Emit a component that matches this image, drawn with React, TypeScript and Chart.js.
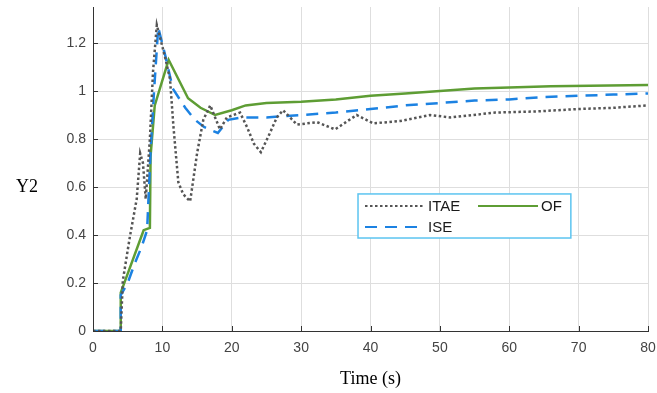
import React, { useEffect, useRef } from "react";
import { Chart, registerables } from "chart.js";

Chart.register(...registerables);

// ---- Data ----
const itaeT = [0, 4, 4.3, 5.3, 6.3, 6.8, 7.2, 7.6, 8.2, 8.65, 9.2, 10.4, 11.1, 11.6, 12.3, 13.0, 14.0, 15.0, 15.9, 16.9, 18.3, 19.3, 21.2, 22.2, 23.2, 24.2, 25.5, 26.5, 27.4, 29.4, 32.3, 34.9, 38.0, 40.4, 44.3, 48.6, 51.5, 58.0, 64.0, 70.0, 75.0, 80.0];
const itaeY = [0, 0, 0.21, 0.39, 0.55, 0.74, 0.7, 0.55, 0.8, 1.08, 1.275, 1.14, 1.05, 0.85, 0.62, 0.57, 0.54, 0.74, 0.88, 0.94, 0.84, 0.89, 0.91, 0.85, 0.78, 0.745, 0.825, 0.89, 0.92, 0.86, 0.87, 0.84, 0.9, 0.865, 0.875, 0.9, 0.89, 0.91, 0.915, 0.925, 0.93, 0.94];

const iseT = [0, 4, 4, 5, 6, 7, 7.8, 8.3, 8.8, 9.4, 10.4, 11.5, 13.3, 14.7, 16.0, 18.0, 19.5, 21.5, 25, 30, 35, 40, 45, 50, 55, 60, 65, 70, 75, 80];
const iseY = [0, 0, 0.15, 0.2, 0.28, 0.35, 0.42, 0.75, 1.0, 1.265, 1.15, 1.01, 0.93, 0.88, 0.85, 0.825, 0.88, 0.89, 0.89, 0.9, 0.91, 0.925, 0.94, 0.95, 0.96, 0.965, 0.975, 0.98, 0.985, 0.99];

const ofT = [0, 3.9, 4, 7.3, 8.2, 8.3, 8.9, 10.9, 13.7, 15.5, 17.6, 20, 22, 25, 30, 35, 40, 45, 50, 55, 60, 66, 80];
const ofY = [0, 0, 0.16, 0.42, 0.43, 0.73, 0.94, 1.13, 0.97, 0.93, 0.9, 0.92, 0.94, 0.95, 0.955, 0.965, 0.98, 0.99, 1.0, 1.01, 1.015, 1.02, 1.025];

const seriesLabels = ["ITAE", "ISE", "OF"];
const xTitle = "Time (s)";
const yTitle = "Y2";
const xMin = 0, xMax = 80, xStep = 10;
const yMin = 0, yMax = 1.35, yStep = 0.2;

const toPts = (t: number[], y: number[]) => t.map((v, i) => ({ x: v, y: y[i] }));

const fmt = (v: number) => String(Number(v.toFixed(2)));

// inward ticks + axis titles + custom boxed legend
const decorPlugin = {
  id: "decor",
  afterDraw(chart: any) {
    const ctx = chart.ctx;
    const { left, right, top, bottom } = chart.chartArea;
    const xs = chart.scales.x;
    const ys = chart.scales.y;
    ctx.save();
    // inward ticks
    ctx.strokeStyle = "#333";
    ctx.lineWidth = 1;
    xs.ticks.forEach((t: any) => {
      const px = Math.round(xs.getPixelForValue(t.value)) + 0.5;
      ctx.beginPath();
      ctx.moveTo(px, bottom);
      ctx.lineTo(px, bottom - 5);
      ctx.stroke();
    });
    ys.ticks.forEach((t: any) => {
      const py = Math.round(ys.getPixelForValue(t.value)) + 0.5;
      ctx.beginPath();
      ctx.moveTo(left, py);
      ctx.lineTo(left + 5, py);
      ctx.stroke();
    });
    // titles
    ctx.fillStyle = "#000";
    ctx.font = "18px 'Liberation Serif', serif";
    ctx.textAlign = "center";
    ctx.textBaseline = "middle";
    ctx.fillText(xTitle, (left + right) / 2, bottom + 48);
    ctx.font = "18px 'Liberation Serif', serif";
    ctx.fillText(yTitle, 27, top + (bottom - top) * 0.557);

    // legend box
    const w = right - left, h = bottom - top;
    const bx = left + w * 0.4775, by = top + h * 0.577;
    const bw = w * 0.3835, bh = h * 0.136;
    ctx.fillStyle = "#fff";
    ctx.fillRect(bx, by, bw, bh);
    ctx.strokeStyle = "#5cc4f0";
    ctx.lineWidth = 1.5;
    ctx.strokeRect(bx, by, bw, bh);
    const ds = chart.data.datasets;
    const items = [
      { d: ds[0], x: bx + 7, y: by + 12 },
      { d: ds[2], x: bx + 120, y: by + 12 },
      { d: ds[1], x: bx + 7, y: by + 33 },
    ];
    ctx.font = "15px 'Liberation Sans', Arial, sans-serif";
    ctx.textAlign = "left";
    items.forEach(({ d, x, y }) => {
      ctx.save();
      ctx.strokeStyle = d.borderColor;
      ctx.lineWidth = Math.min(d.borderWidth, 2);
      ctx.setLineDash(d.borderDash || []);
      ctx.beginPath();
      ctx.moveTo(x, y);
      ctx.lineTo(x + 60, y);
      ctx.stroke();
      ctx.restore();
      ctx.fillStyle = "#1a1a1a";
      ctx.fillText(d.label, x + 63, y + 1);
    });
    ctx.restore();
  },
};

export default function App() {
  const ref = useRef<HTMLCanvasElement | null>(null);
  useEffect(() => {
    if (!ref.current) return;
    const chart = new Chart(ref.current, {
      type: "line",
      data: {
        datasets: [
          {
            label: seriesLabels[0],
            data: toPts(itaeT, itaeY),
            borderColor: "#555555",
            borderWidth: 2.5,
            borderDash: [2.5, 2.5],
            pointRadius: 0,
            tension: 0,
          },
          {
            label: seriesLabels[1],
            data: toPts(iseT, iseY),
            borderColor: "#1c82e2",
            borderWidth: 2.5,
            borderDash: [12, 8],
            pointRadius: 0,
            tension: 0,
          },
          {
            label: seriesLabels[2],
            data: toPts(ofT, ofY),
            borderColor: "#5e9d34",
            borderWidth: 2.5,
            pointRadius: 0,
            tension: 0,
          },
        ],
      },
      options: {
        animation: false,
        responsive: false,
        layout: { padding: { left: 0, right: 9, top: 7, bottom: 0 } },
        plugins: { legend: { display: false }, tooltip: { enabled: false } },
        scales: {
          x: {
            type: "linear",
            min: xMin,
            max: xMax,
            afterFit: (s: any) => { s.height = 62; s.paddingLeft = 0; s.paddingRight = 0; },
            ticks: {
              stepSize: xStep,
              padding: 9,
              color: "#444",
              font: { family: "'Liberation Sans', Arial, sans-serif", size: 14 },
              maxRotation: 0,
            },
            grid: { color: "#dedede", lineWidth: 1, drawTicks: false },
            border: { color: "#333", width: 1 },
          },
          y: {
            type: "linear",
            min: yMin,
            max: yMax,
            afterFit: (s: any) => { s.width = 93; s.paddingTop = 0; s.paddingBottom = 0; },
            ticks: {
              stepSize: yStep,
              includeBounds: false,
              padding: 7,
              color: "#444",
              font: { family: "'Liberation Sans', Arial, sans-serif", size: 14 },
              callback: (v: any) => fmt(Number(v)),
            },
            grid: { color: "#dedede", lineWidth: 1, drawTicks: false },
            border: { color: "#333", width: 1 },
          },
        },
      },
      plugins: [decorPlugin],
    } as any);
    return () => chart.destroy();
  }, []);
  return (
    <div style={{ position: "absolute", left: 0, top: 0, width: 657, height: 393, background: "#fff" }}>
      <canvas ref={ref} width={657} height={393} />
    </div>
  );
}
